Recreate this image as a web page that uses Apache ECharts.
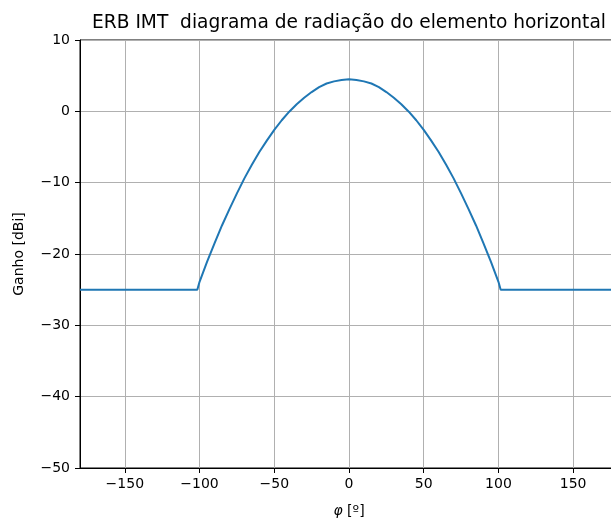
<!DOCTYPE html>
<html>
<head>
<meta charset="utf-8">
<script src="https://cdn.jsdelivr.net/npm/echarts@6/dist/echarts.min.js"></script>
<style>
  html, body { margin: 0; padding: 0; background: #fff; overflow: hidden; width: 611px; height: 523px; }
  /* the axes run a little past the right edge of the view, so the canvas is wider than the window */
  #chart { width: 626px; height: 523px; }
</style>
</head>
<body>
<div id="chart"></div>
<script>
// Horizontal element pattern of the IMT base station (gain in dBi vs azimuth)
const phiDeg = [-180, -101.5, -100, -95, -90, -85, -80, -75, -70, -65, -60, -55, -50, -45, -40, -35, -30, -25, -20, -15, -10, -5,
                0, 5, 10, 15, 20, 25, 30, 35, 40, 45, 50, 55, 60, 65, 70, 75, 80, 85, 90, 95, 100, 101.5, 180];
const gainDbi = [-25, -25, -23.9, -21.1, -18.5, -16.0, -13.7, -11.5, -9.4, -7.5, -5.7, -4.1, -2.6, -1.25, -0.05, 1.0, 1.9, 2.7, 3.4, 3.9, 4.2, 4.4,
                 4.5, 4.4, 4.2, 3.9, 3.4, 2.7, 1.9, 1.0, -0.05, -1.25, -2.6, -4.1, -5.7, -7.5, -9.4, -11.5, -13.7, -16.0, -18.5, -21.1, -23.9, -25, -25];
const xTicks = [-150, -100, -50, 0, 50, 100, 150];
const yTicks = [-50, -40, -30, -20, -10, 0, 10];

const titleText = 'ERB IMT  diagrama de radiação do elemento horizontal';
const yName = 'Ganho [dBi]';

const minus = v => String(v).replace('-', '\u2212');
const font = 'DejaVu Sans';

const chart = echarts.init(document.getElementById('chart'), null, { renderer: 'canvas' });
chart.setOption({
  backgroundColor: '#ffffff',
  animation: false,
  title: {
    text: titleText,
    left: 344, top: 9,
    textAlign: 'center',
    textStyle: { fontFamily: font, fontSize: 18.6, fontWeight: 'normal', color: '#000' }
  },
  grid: { left: 80, top: 40, right: 8, bottom: 54, containLabel: false,
          show: true, borderColor: '#000', borderWidth: 1, backgroundColor: 'transparent' },
  xAxis: {
    type: 'value', min: -180, max: 180,
    name: '{i|φ} [º]', nameLocation: 'middle', nameGap: 36,
    nameTextStyle: { fontFamily: font, fontSize: 14, color: '#000',
      rich: { i: { fontFamily: font, fontSize: 14, fontStyle: 'italic', color: '#000' } } },
    axisLine: { show: true, onZero: false, lineStyle: { color: '#000', width: 1 } },
    axisTick: { show: true, length: 5, customValues: xTicks, lineStyle: { color: '#000' } },
    axisLabel: { customValues: xTicks, margin: 9, fontFamily: font, fontSize: 14, color: '#000', formatter: minus },
    splitLine: { show: true, lineStyle: { color: '#b0b0b0', width: 1 } }
  },
  yAxis: {
    type: 'value', min: -50, max: 10, interval: 10,
    name: yName, nameLocation: 'middle', nameGap: 54,
    nameTextStyle: { fontFamily: font, fontSize: 14, color: '#000' },
    axisLine: { show: true, onZero: false, lineStyle: { color: '#000', width: 1 } },
    axisTick: { show: true, length: 5, lineStyle: { color: '#000' } },
    axisLabel: { margin: 10, fontFamily: font, fontSize: 14, color: '#000', formatter: minus },
    splitLine: { show: true, lineStyle: { color: '#b0b0b0', width: 1 } }
  },
  series: [{
    type: 'line',
    data: phiDeg.map((p, i) => [p, gainDbi[i]]),
    showSymbol: false,
    lineStyle: { color: '#1f77b4', width: 2 },
    clip: true
  }]
});
</script>
</body>
</html>
